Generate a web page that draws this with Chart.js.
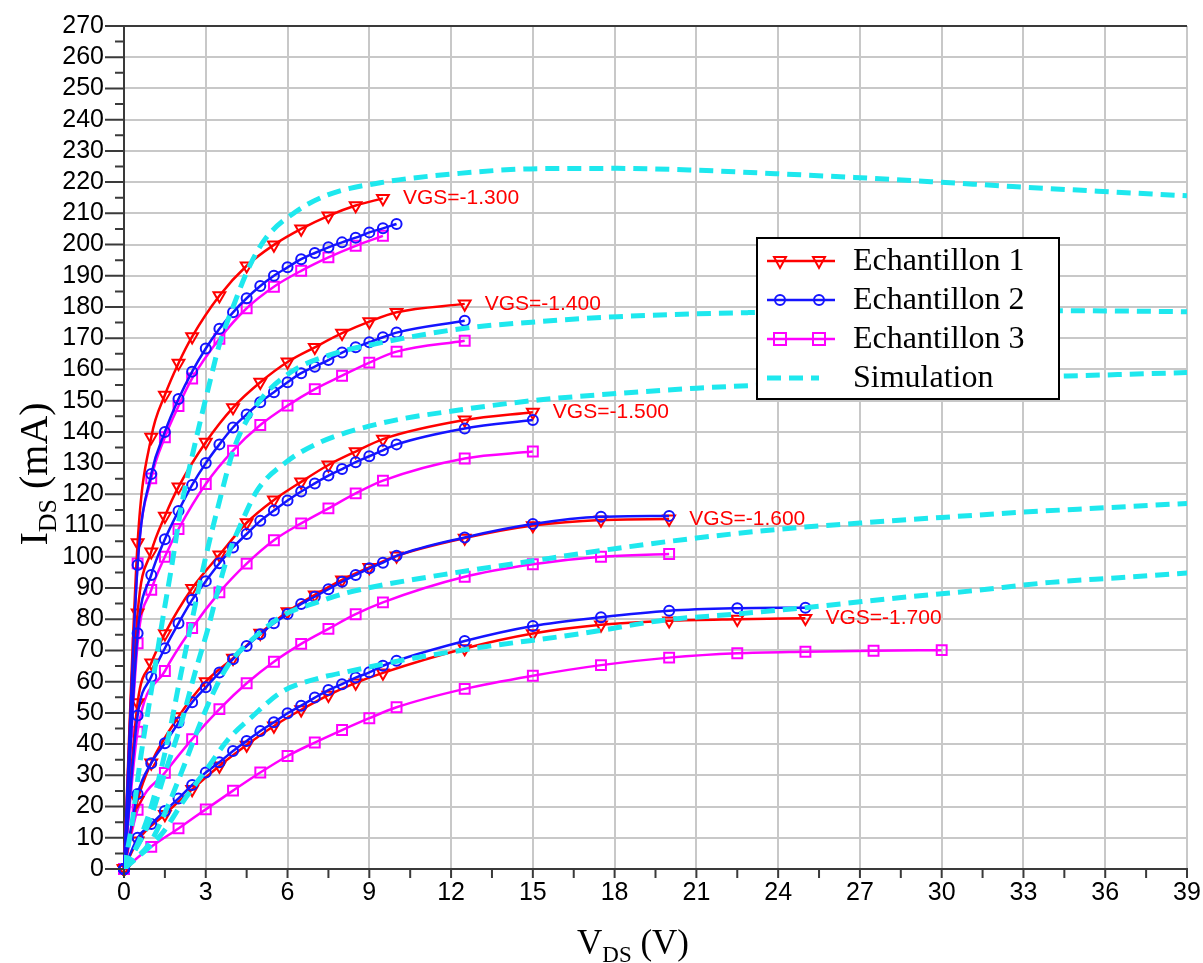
<!DOCTYPE html>
<html lang="fr">
<head>
<meta charset="UTF-8">
<title>IDS = f(VDS)</title>
<script src="https://cdn.jsdelivr.net/npm/chart.js"></script>
<style>
  html, body { margin: 0; padding: 0; background: #fff; }
  #wrap { width: 1203px; height: 963px; }
</style>
</head>
<body>
<div id="wrap"><canvas id="ivChart" width="1203" height="963"></canvas></div>
<script>
// ---- data (VDS in V, IDS in mA) ----
const vgsLabels = ['VGS=-1.300', 'VGS=-1.400', 'VGS=-1.500', 'VGS=-1.600', 'VGS=-1.700'];

// Echantillon 1 (red triangles)
const e1_130_x = [0, 0.5, 1, 1.5, 2, 2.5, 3.5, 4.5, 5.5, 6.5, 7.5, 8.5, 9.5];
const e1_130_y = [0, 104.5, 138.3, 151.8, 162, 170.5, 183.6, 193.2, 199.9, 205, 209.2, 212.5, 214.8];
const e1_140_x = [0, 0.5, 1, 1.5, 2, 3, 4, 5, 6, 7, 8, 9, 10, 12.5];
const e1_140_y = [0, 82, 101.6, 113, 122.4, 136.7, 147.8, 155.9, 162.4, 167.1, 171.6, 175.3, 178.3, 181];
const e1_150_x = [0, 0.5, 1, 1.5, 2.5, 3.5, 4.5, 5.5, 6.5, 7.5, 8.5, 9.5, 12.5, 15];
const e1_150_y = [0, 53.3, 66, 75.4, 89.9, 100.6, 110.9, 118.2, 124, 129.4, 133.7, 137.7, 143.8, 146.3];
const e1_160_x = [0, 0.5, 1, 2, 3, 4, 5, 6, 7, 8, 9, 10, 12.5, 15, 17.5, 20];
const e1_160_y = [0, 22, 34, 48.8, 60, 67.5, 75.5, 82.4, 87.8, 92.6, 96.6, 100.3, 106, 110, 111.8, 112.1];
const e1_170_x = [0, 0.5, 1.5, 2.5, 3.5, 4.5, 5.5, 6.5, 7.5, 8.5, 9.5, 12.5, 15, 17.5, 20, 22.5, 25];
const e1_170_y = [0, 9, 17.5, 25.5, 33, 39.7, 45.8, 51, 55.7, 59.6, 62.8, 70.6, 75.4, 78.2, 79.5, 80, 80.3];

// Echantillon 2 (blue circles)
const e2_130_x = [0, 0.5, 1, 1.5, 2, 2.5, 3, 3.5, 4, 4.5, 5, 5.5, 6, 6.5, 7, 7.5, 8, 8.5, 9, 9.5, 10];
const e2_130_y = [0, 97.4, 126.5, 140, 150.5, 159.3, 166.7, 173, 178.3, 182.8, 186.7, 190, 192.7, 195.3, 197.3, 199.1, 200.7, 202.2, 203.9, 205.2, 206.6];
const e2_140_x = [0, 0.5, 1, 1.5, 2, 2.5, 3, 3.5, 4, 4.5, 5, 5.5, 6, 6.5, 7, 7.5, 8, 8.5, 9, 9.5, 10, 12.5];
const e2_140_y = [0, 75.5, 94.2, 105.6, 114.7, 123, 130, 136, 141.4, 145.6, 149.5, 152.7, 155.9, 158.8, 160.9, 163, 165.4, 167.1, 168.7, 170.3, 171.8, 175.6];
const e2_150_x = [0, 0.5, 1, 1.5, 2, 2.5, 3, 3.5, 4, 4.5, 5, 5.5, 6, 6.5, 7, 7.5, 8, 8.5, 9, 9.5, 10, 12.5, 15];
const e2_150_y = [0, 49.2, 61.6, 70.7, 78.7, 86.2, 92.2, 97.9, 103, 107.3, 111.5, 114.8, 118, 120.9, 123.5, 126, 128.1, 130.3, 132.2, 134.1, 136, 141.1, 143.8];
const e2_160_x = [0, 0.5, 1, 1.5, 2, 2.5, 3, 3.5, 4, 4.5, 5, 5.5, 6, 6.5, 7, 7.5, 8, 8.5, 9, 9.5, 10, 12.5, 15, 17.5, 20];
const e2_160_y = [0, 24, 33.9, 40.3, 46.9, 53.4, 58.2, 62.9, 67.2, 71.4, 75.2, 78.7, 81.7, 84.9, 87.2, 89.6, 92, 94.2, 96.3, 98.1, 100.3, 106.2, 110.5, 112.8, 113.1];
const e2_170_x = [0, 0.5, 1, 1.5, 2, 2.5, 3, 3.5, 4, 4.5, 5, 5.5, 6, 6.5, 7, 7.5, 8, 8.5, 9, 9.5, 10, 12.5, 15, 17.5, 20, 22.5, 25];
const e2_170_y = [0, 10, 14.4, 18.6, 22.6, 26.9, 30.9, 34.2, 37.8, 41, 44.2, 47, 49.9, 52.3, 54.9, 57.3, 59.2, 61.3, 63, 65.1, 66.7, 73, 77.8, 80.6, 82.7, 83.5, 83.7];

// Echantillon 3 (magenta squares)
const e3_130_x = [0, 0.5, 1, 1.5, 2, 2.5, 3.5, 4.5, 5.5, 6.5, 7.5, 8.5, 9.5];
const e3_130_y = [0, 97.9, 125.1, 138.3, 148.3, 157.1, 169.8, 179.6, 186.5, 191.6, 195.9, 199.6, 202.8];
const e3_140_x = [0, 0.5, 1, 1.5, 2, 3, 4, 5, 6, 7, 8, 9, 10, 12.5];
const e3_140_y = [0, 72.3, 89.4, 100, 108.9, 123.3, 134, 142.2, 148.4, 153.7, 158, 162.2, 165.7, 169.2];
const e3_150_x = [0, 0.5, 1.5, 2.5, 3.5, 4.5, 5.5, 6.5, 7.5, 8.5, 9.5, 12.5, 15];
const e3_150_y = [0, 44, 63.4, 77.2, 88.6, 97.8, 105.3, 110.7, 115.5, 120.3, 124.4, 131.5, 133.7];
const e3_160_x = [0, 0.5, 1.5, 2.5, 3.5, 4.5, 5.5, 6.5, 7.5, 8.5, 9.5, 12.5, 15, 17.5, 20];
const e3_160_y = [0, 19, 30.8, 41.6, 51.2, 59.5, 66.4, 72.1, 76.9, 81.6, 85.4, 93.6, 97.6, 100, 100.9];
const e3_170_x = [0, 1, 2, 3, 4, 5, 6, 7, 8, 9, 10, 12.5, 15, 17.5, 20, 22.5, 25, 27.5, 30];
const e3_170_y = [0, 7.1, 13, 19.1, 25.1, 30.9, 36.2, 40.5, 44.5, 48.3, 51.8, 57.7, 61.9, 65.3, 67.7, 69.1, 69.6, 69.9, 70.1];

// Simulation (cyan dashed)
const sim_130_x = [0, 0.3, 0.6, 1, 1.4, 1.75, 2.1, 2.6, 3.15, 3.5, 4, 4.6, 5.2, 6.3, 7.5, 9.4, 12.3, 15.2, 18.1, 21, 23.9, 26.8, 29.7, 32.6, 35.5, 39];
const sim_130_y = [0, 15, 35, 57, 79, 97, 116, 136, 156, 168, 180, 193, 202, 210.5, 216, 219.8, 222.8, 224.3, 224.4, 223.8, 222.7, 221.5, 220.1, 218.6, 217.2, 215.6];
const sim_140_x = [0, 0.4, 1, 1.6, 2.1, 2.6, 3, 3.45, 4.05, 4.9, 6.1, 7.5, 9.4, 12.5, 15.2, 18.1, 22.9, 28, 34.6, 39];
const sim_140_y = [0, 6, 20, 41, 63, 84, 100, 116, 135, 149, 159, 164.5, 168.5, 173.2, 175.3, 176.9, 178.2, 178.8, 178.8, 178.5];
const sim_150_x = [0, 0.9, 1.5, 2.1, 2.6, 3.1, 3.45, 3.8, 4.3, 4.9, 5.9, 7.1, 9.4, 12.3, 15.2, 18.1, 21, 24, 27, 30, 34.6, 39];
const sim_150_y = [0, 14.6, 30.7, 46.7, 62.7, 77.6, 89.4, 100, 110.7, 121.4, 130, 136.3, 142.7, 147, 150.2, 152.3, 154, 155.2, 156.2, 157, 157.9, 159];
const sim_160_x = [0, 1, 1.6, 2.2, 2.7, 3.2, 3.8, 4.7, 5.9, 7.1, 8.2, 9.4, 12, 15, 18, 21, 24, 27, 30, 33, 36, 39];
const sim_160_y = [0, 9, 20, 33, 44.5, 55, 65, 73.5, 81.5, 85.5, 88.5, 90.8, 94.7, 98.7, 102.6, 106, 108.8, 110.8, 112.6, 114.3, 115.7, 117.1];
const sim_170_x = [0, 1.4, 2.2, 3.1, 3.8, 4.7, 5.8, 7.1, 8.2, 10.6, 13.1, 16.7, 19.9, 22.4, 25, 28, 31, 34, 36.5, 39];
const sim_170_y = [0, 11.4, 22, 32.8, 41.3, 48.8, 56.8, 61, 63.2, 67.5, 71, 75.3, 79.8, 81.6, 83.7, 86.5, 89, 91.8, 93.3, 94.8];

// ---- styling ----
const RED = '#ff0000';
const BLUE = '#1414ff';
const MAGENTA = '#ff00ff';
const CYAN = '#1ee8ee';
const GRID = '#c8c8c8';
const AXIS = '#3a3a3a';
const SANS = '"Liberation Sans", Arial, sans-serif';
const SERIF = '"Liberation Serif", "Times New Roman", serif';

function curve(xs, ys) {
    return xs.map((x, i) => ({ x: x, y: ys[i] }));
}

const redCurves = [[e1_130_x, e1_130_y], [e1_140_x, e1_140_y], [e1_150_x, e1_150_y], [e1_160_x, e1_160_y], [e1_170_x, e1_170_y]];
const blueCurves = [[e2_130_x, e2_130_y], [e2_140_x, e2_140_y], [e2_150_x, e2_150_y], [e2_160_x, e2_160_y], [e2_170_x, e2_170_y]];
const pinkCurves = [[e3_130_x, e3_130_y], [e3_140_x, e3_140_y], [e3_150_x, e3_150_y], [e3_160_x, e3_160_y], [e3_170_x, e3_170_y]];
const simCurves = [[sim_130_x, sim_130_y], [sim_140_x, sim_140_y], [sim_150_x, sim_150_y], [sim_160_x, sim_160_y], [sim_170_x, sim_170_y]];

function measured(label, list, color, style, radius, rotation) {
    return list.map(([xs, ys]) => ({
        label: label,
        data: curve(xs, ys),
        borderColor: color,
        borderWidth: 2.5,
        pointStyle: style,
        pointRotation: rotation,
        pointRadius: radius,
        pointBorderWidth: 2,
        pointBorderColor: color,
        pointBackgroundColor: 'rgba(0,0,0,0)',
        cubicInterpolationMode: 'monotone',
        clip: false
    }));
}

const simSets = simCurves.map(([xs, ys]) => ({
    label: 'Simulation',
    data: curve(xs, ys),
    borderColor: CYAN,
    borderWidth: 5,
    borderDash: [14, 8],
    pointRadius: 0,
    cubicInterpolationMode: 'monotone'
}));

// first dataset is drawn on top
const datasets = [
    ...simSets,
    ...measured('Echantillon 2', blueCurves, BLUE, 'circle', 5, 0),
    ...measured('Echantillon 1', redCurves, RED, 'triangle', 6.8, 180),
    ...measured('Echantillon 3', pinkCurves, MAGENTA, 'rect', 7, 0)
];

// little marker used by the legend box
function marker(ctx, kind, px, py) {
    ctx.beginPath();
    if (kind === 'tri') {
        ctx.moveTo(px - 6, py - 4);
        ctx.lineTo(px + 6, py - 4);
        ctx.lineTo(px, py + 7);
        ctx.closePath();
    } else if (kind === 'circle') {
        ctx.arc(px, py, 5, 0, Math.PI * 2);
    } else {
        ctx.rect(px - 6, py - 6, 12, 12);
    }
    ctx.stroke();
}

// main text + subscript + tail, centred on cx
function subText(ctx, main, sub, tail, cx, base, size) {
    const small = Math.round(size * 0.65);
    ctx.font = size + 'px ' + SERIF;
    const w1 = ctx.measureText(main).width;
    const w3 = ctx.measureText(tail).width;
    ctx.font = small + 'px ' + SERIF;
    const w2 = ctx.measureText(sub).width;
    let px = cx - (w1 + w2 + w3) / 2;
    ctx.textAlign = 'left';
    ctx.textBaseline = 'alphabetic';
    ctx.font = size + 'px ' + SERIF;
    ctx.fillText(main, px, base);
    px += w1;
    ctx.font = small + 'px ' + SERIF;
    ctx.fillText(sub, px, base + Math.round(size * 0.22));
    px += w2;
    ctx.font = size + 'px ' + SERIF;
    ctx.fillText(tail, px, base);
}

const decorations = {
    id: 'decorations',
    afterDraw(chart) {
        const { ctx, scales: { x, y } } = chart;
        ctx.save();

        // tick marks outside the plot
        ctx.strokeStyle = AXIS;
        ctx.lineWidth = 2;
        ctx.beginPath();
        y.ticks.forEach(t => {
            const py = y.getPixelForValue(t.value);
            const len = t.value % 10 === 0 ? 19 : 9;
            ctx.moveTo(x.left - len, py);
            ctx.lineTo(x.left, py);
        });
        x.ticks.forEach(t => {
            const px = x.getPixelForValue(t.value);
            ctx.moveTo(px, y.bottom);
            ctx.lineTo(px, y.bottom + 9);
        });
        ctx.stroke();

        // VGS labels next to the last red point
        ctx.fillStyle = RED;
        ctx.font = '21px ' + SANS;
        ctx.textAlign = 'left';
        ctx.textBaseline = 'middle';
        redCurves.forEach(([xs, ys], i) => {
            const n = xs.length - 1;
            ctx.fillText(vgsLabels[i], x.getPixelForValue(xs[n]) + 20, y.getPixelForValue(ys[n]));
        });

        // legend box
        const bx = 757, by = 238, bw = 302, bh = 161;
        ctx.fillStyle = '#fff';
        ctx.fillRect(bx, by, bw, bh);
        ctx.strokeStyle = '#000';
        ctx.lineWidth = 2;
        ctx.strokeRect(bx, by, bw, bh);
        const rows = [
            { text: 'Echantillon 1', color: RED, kind: 'tri' },
            { text: 'Echantillon 2', color: BLUE, kind: 'circle' },
            { text: 'Echantillon 3', color: MAGENTA, kind: 'rect' },
            { text: 'Simulation', color: CYAN, kind: 'dash' }
        ];
        rows.forEach((r, i) => {
            const ry = by + 23 + i * 39;
            ctx.strokeStyle = r.color;
            if (r.kind === 'dash') {
                ctx.lineWidth = 5;
                ctx.setLineDash([14, 8]);
                ctx.beginPath();
                ctx.moveTo(bx + 10, ry);
                ctx.lineTo(bx + 62, ry);
                ctx.stroke();
                ctx.setLineDash([]);
            } else {
                ctx.lineWidth = 2.5;
                ctx.beginPath();
                ctx.moveTo(bx + 10, ry);
                ctx.lineTo(bx + 78, ry);
                ctx.stroke();
                ctx.lineWidth = 2;
                marker(ctx, r.kind, bx + 23, ry);
                marker(ctx, r.kind, bx + 62, ry);
            }
            ctx.fillStyle = '#000';
            ctx.font = '32px ' + SERIF;
            ctx.textAlign = 'left';
            ctx.textBaseline = 'middle';
            ctx.fillText(r.text, bx + 96, ry + 1);
        });

        // axis titles
        ctx.fillStyle = '#000';
        subText(ctx, 'V', 'DS', ' (V)', 633, 954, 35);
        ctx.translate(47, 474);
        ctx.rotate(-Math.PI / 2);
        subText(ctx, 'I', 'DS', ' (mA)', 0, 0, 40);

        ctx.restore();
    }
};

new Chart(document.getElementById('ivChart'), {
    type: 'line',
    data: { datasets: datasets },
    options: {
        responsive: false,
        animation: false,
        devicePixelRatio: 1,
        layout: { padding: { top: 26, right: 16, left: 0, bottom: 0 } },
        plugins: { legend: { display: false }, tooltip: { enabled: false } },
        scales: {
            x: {
                type: 'linear',
                min: 0,
                max: 39,
                ticks: {
                    stepSize: 1.5,
                    autoSkip: false,
                    maxRotation: 0,
                    padding: 9,
                    color: '#000',
                    font: { family: SANS, size: 25 },
                    callback: v => (v % 3 === 0 ? v : '')
                },
                grid: {
                    color: c => (c.tick && c.tick.value % 3 === 0 ? GRID : 'rgba(0,0,0,0)'),
                    lineWidth: 2,
                    drawTicks: false
                },
                border: { color: AXIS, width: 2 },
                afterFit: s => {
                    s.height = 94;
                    s.paddingLeft = 0;
                    s.paddingRight = 0;
                }
            },
            y: {
                type: 'linear',
                min: 0,
                max: 270,
                ticks: {
                    stepSize: 5,
                    autoSkip: false,
                    padding: 20,
                    color: '#000',
                    font: { family: SANS, size: 25 },
                    callback: v => (v % 10 === 0 ? v : '')
                },
                grid: {
                    color: c => {
                        if (!c.tick) return GRID;
                        if (c.tick.value === 270) return AXIS;
                        return c.tick.value % 10 === 0 ? GRID : 'rgba(0,0,0,0)';
                    },
                    lineWidth: 2,
                    drawTicks: false
                },
                border: { color: AXIS, width: 2 },
                afterFit: s => {
                    s.width = 124;
                    s.paddingTop = 0;
                    s.paddingBottom = 0;
                }
            }
        }
    },
    plugins: [decorations]
});
</script>
</body>
</html>
